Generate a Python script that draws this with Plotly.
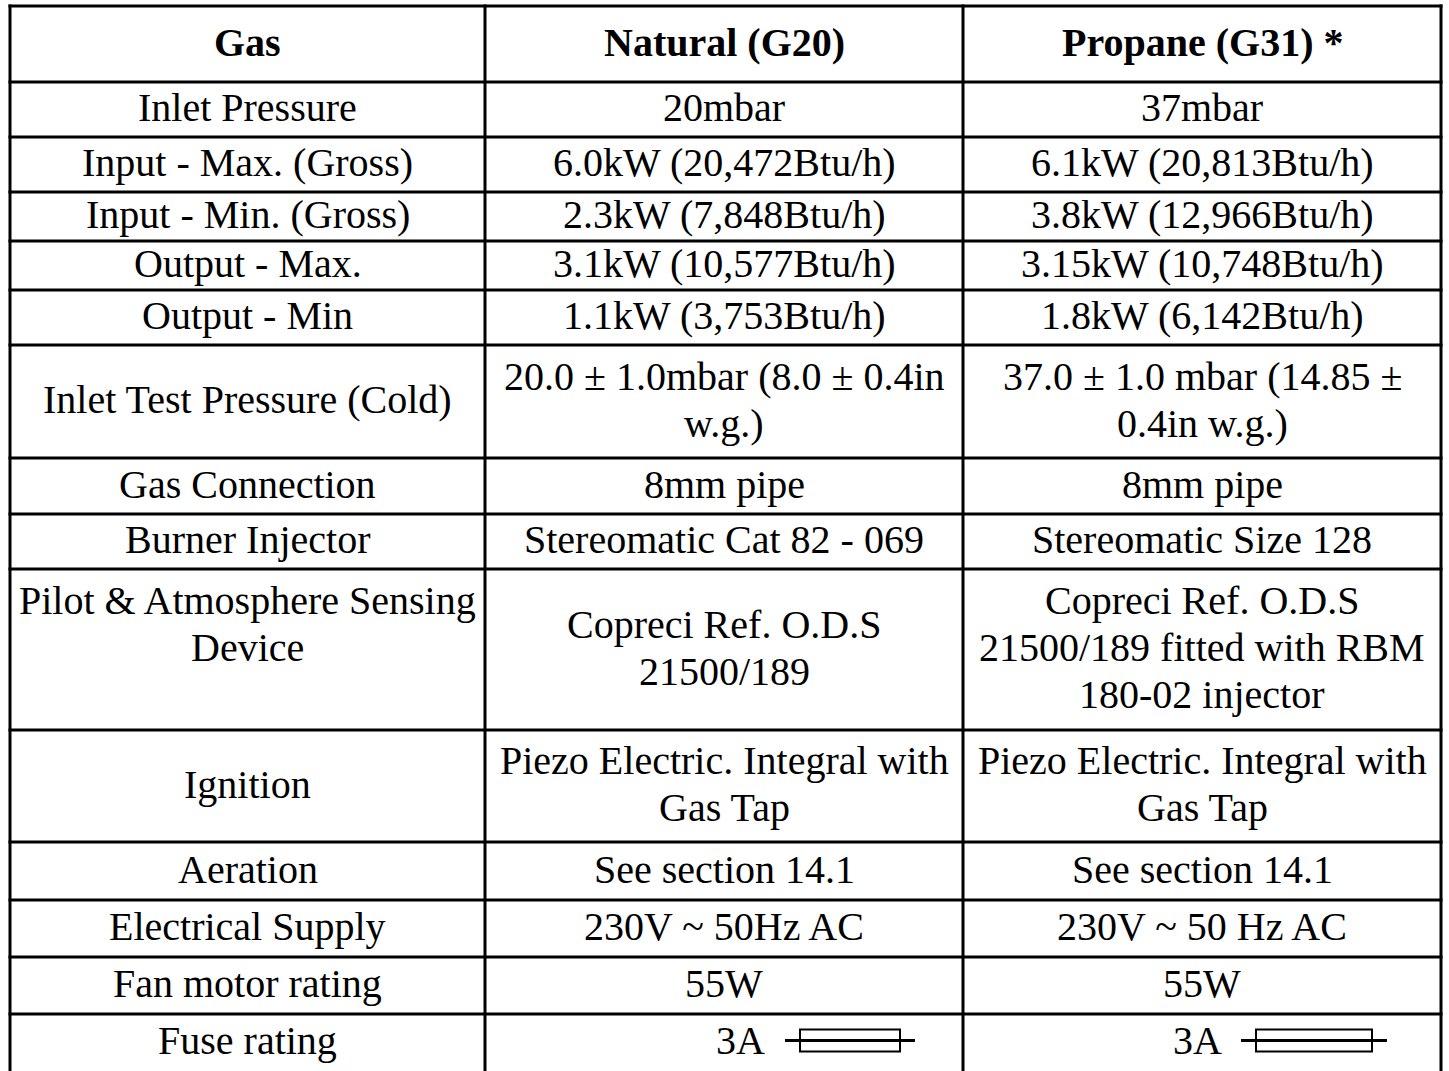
import plotly.graph_objects as go

# ---------------- data ----------------
header = ["Gas", "Natural (G20)", "Propane (G31) *"]

parameters = [
    "Inlet Pressure",
    "Input - Max. (Gross)",
    "Input - Min. (Gross)",
    "Output - Max.",
    "Output - Min",
    "Inlet Test Pressure (Cold)",
    "Gas Connection",
    "Burner Injector",
    "Pilot & Atmosphere Sensing\nDevice\n",
    "Ignition",
    "Aeration",
    "Electrical Supply",
    "Fan motor rating",
    "Fuse rating",
]

natural = [
    "20mbar",
    "6.0kW (20,472Btu/h)",
    "2.3kW (7,848Btu/h)",
    "3.1kW (10,577Btu/h)",
    "1.1kW (3,753Btu/h)",
    "20.0 ± 1.0mbar (8.0 ± 0.4in\nw.g.)",
    "8mm pipe",
    "Stereomatic Cat 82 - 069",
    "Copreci Ref. O.D.S\n21500/189",
    "Piezo Electric. Integral with\nGas Tap",
    "See section 14.1",
    "230V ~ 50Hz AC",
    "55W",
    "3A",
]

propane = [
    "37mbar",
    "6.1kW (20,813Btu/h)",
    "3.8kW (12,966Btu/h)",
    "3.15kW (10,748Btu/h)",
    "1.8kW (6,142Btu/h)",
    "37.0 ± 1.0 mbar (14.85 ±\n0.4in w.g.)",
    "8mm pipe",
    "Stereomatic Size 128",
    "Copreci Ref. O.D.S\n21500/189 fitted with RBM\n180-02 injector",
    "Piezo Electric. Integral with\nGas Tap",
    "See section 14.1",
    "230V ~ 50 Hz AC",
    "55W",
    "3A",
]

# ---------------- layout / style ----------------
W, H = 1449, 1071
col_edges = [10, 485, 963, 1441]
top = 6
header_h = 76
row_heights = [55, 55, 49, 49, 55, 113, 56, 55, 161, 112, 58, 57, 57, 57]
font_size = 40
line_h = 47
font_family = "Liberation Serif, Times New Roman, serif"
line_w = 3
text_dy = -2

fig = go.Figure()

shapes = []
annotations = []

# row boundaries
row_edges = [top, top + header_h]
for h in row_heights:
    row_edges.append(row_edges[-1] + h)

# horizontal lines (the bottom is cut off in the reference)
for y in row_edges[:-1]:
    shapes.append(dict(type="line", xref="x", yref="y", x0=col_edges[0] - 1.5, x1=col_edges[-1] + 1.5,
                       y0=y, y1=y, line=dict(color="black", width=line_w)))
# vertical lines
for x in col_edges:
    shapes.append(dict(type="line", xref="x", yref="y", x0=x, x1=x,
                       y0=top - 1.5, y1=H + 5, line=dict(color="black", width=line_w)))


def add_text(text, xc, yc, bold=False):
    lines = text.split("\n")
    n = len(lines)
    for i, ln in enumerate(lines):
        if ln == "":
            continue
        y = yc + (i - (n - 1) / 2) * line_h
        annotations.append(dict(
            x=xc, y=y, xref="x", yref="y", text=("<b>%s</b>" % ln) if bold else ln,
            showarrow=False, xanchor="center", yanchor="middle",
            font=dict(family=font_family, size=font_size, color="black"),
        ))


col_centers = [(col_edges[i] + col_edges[i + 1]) / 2 for i in range(3)]

# header
hy = (row_edges[0] + row_edges[1]) / 2 + text_dy
for i, h in enumerate(header):
    add_text(h, col_centers[i], hy, bold=True)

# body
n_rows = len(parameters)
for r in range(n_rows):
    yc = (row_edges[r + 1] + row_edges[r + 2]) / 2 + text_dy
    add_text(parameters[r], col_centers[0], yc)
    if r == n_rows - 1:
        # fuse row: text followed by the fuse symbol
        for ci, val, tx, sx, rw in [(1, natural[r], 740, 800, 100), (2, propane[r], 1197, 1256, 116)]:
            add_text(val, tx, yc)
            rect_h, ext = 22, 15
            ys = yc
            shapes.append(dict(type="rect", xref="x", yref="y", x0=sx, x1=sx + rw,
                               y0=ys - rect_h / 2, y1=ys + rect_h / 2,
                               line=dict(color="black", width=2), fillcolor="rgba(0,0,0,0)"))
            shapes.append(dict(type="line", xref="x", yref="y", x0=sx - ext, x1=sx + rw + ext,
                               y0=ys, y1=ys, line=dict(color="black", width=3)))
    else:
        add_text(natural[r], col_centers[1], yc)
        add_text(propane[r], col_centers[2], yc)

fig.update_layout(
    width=W, height=H,
    margin=dict(l=0, r=0, t=0, b=0),
    paper_bgcolor="white", plot_bgcolor="white",
    xaxis=dict(range=[0, W], visible=False, fixedrange=True),
    yaxis=dict(range=[H, 0], visible=False, fixedrange=True),
    shapes=shapes, annotations=annotations,
    showlegend=False,
)

fig.write_html("out.html", config={"displayModeBar": False},
               post_script="document.body.style.margin='0px';")
